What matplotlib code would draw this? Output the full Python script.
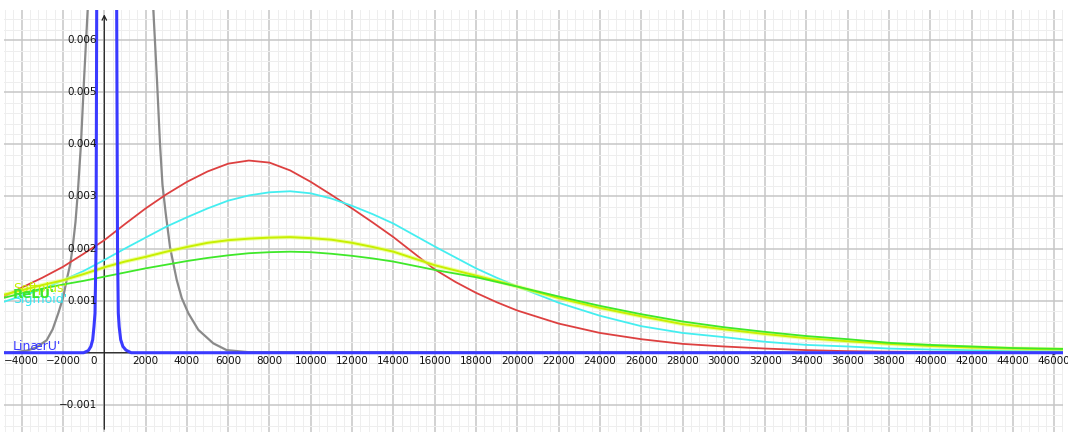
import matplotlib
matplotlib.use('Agg')
import matplotlib.pyplot as plt
import matplotlib.ticker as mtick
from matplotlib.transforms import offset_copy

# --- values ---
xs_wide = [-5000, -4000, -3000, -2000, -1000, 0, 1000, 2000, 3000, 4000, 5000, 6000,
           7000, 8000, 9000, 10000, 11000, 12000, 13000, 14000, 15000, 16000, 17000,
           18000, 19000, 20000, 22000, 24000, 26000, 28000, 30000, 32000, 34000,
           36000, 38000, 40000, 42000, 44000, 47000]

red_vals = [0.00105, 0.00125, 0.00144, 0.00165, 0.0019, 0.00216, 0.00247, 0.00277,
            0.00304, 0.00328, 0.00348, 0.00363, 0.00369, 0.00365, 0.0035, 0.00328,
            0.00303, 0.00277, 0.0025, 0.00222, 0.00191, 0.0016, 0.00136, 0.00115,
            0.00097, 0.00081, 0.00056, 0.00038, 0.00026, 0.00017, 0.00012, 0.00008,
            0.00005, 0.00003, 0.00002, 0.000015, 0.00001, 0.00001, 0.000005]

sigmoid_vals = [0.00096, 0.00109, 0.00122, 0.00139, 0.00157, 0.00178, 0.002, 0.00221,
                0.00242, 0.0026, 0.00277, 0.00292, 0.00302, 0.00308, 0.0031, 0.00306,
                0.00296, 0.00282, 0.00266, 0.00248, 0.00226, 0.00204, 0.00183, 0.00162,
                0.00144, 0.00127, 0.00096, 0.00071, 0.00051, 0.00038, 0.0003, 0.00021,
                0.00015, 0.00012, 0.00008, 0.00006, 0.00005, 0.00004, 0.00003]

softplus_vals = [0.0011, 0.0012, 0.0013, 0.00139, 0.00151, 0.00164, 0.00175, 0.00184,
                 0.00194, 0.00203, 0.00211, 0.00216, 0.00219, 0.00221, 0.00222, 0.0022,
                 0.00217, 0.00211, 0.00203, 0.00194, 0.00181, 0.00168, 0.00158, 0.00148,
                 0.00138, 0.00127, 0.00105, 0.00086, 0.0007, 0.00055, 0.00045, 0.00036,
                 0.00028, 0.00022, 0.00017, 0.00013, 0.0001, 0.00008, 0.00006]

relu_vals = [0.00104, 0.00114, 0.00123, 0.00131, 0.00138, 0.00146, 0.00154, 0.00162,
             0.00169, 0.00176, 0.00182, 0.00187, 0.00191, 0.00193, 0.00194, 0.00193,
             0.0019, 0.00186, 0.00181, 0.00175, 0.00167, 0.00159, 0.00152, 0.00145,
             0.00136, 0.00127, 0.00108, 0.0009, 0.00074, 0.0006, 0.00049, 0.0004,
             0.00032, 0.00026, 0.00019, 0.00015, 0.00012, 0.00009, 0.00007]

grey_x = [-5000, -4300, -3760, -3300, -2790, -2500, -2227, -2000, -1820, -1650, -1530,
          -1395, -1274, -1128, -983, -805, 785, 2375, 2552, 2697, 2818, 2973, 3182,
          3350, 3506, 3750, 4068, 4552, 5278, 5927, 7000, 47000]
grey_y = [0.0, 0.00001, 0.00004, 0.0001, 0.00024, 0.00045, 0.00076, 0.00105, 0.0014,
          0.0017, 0.00203, 0.00251, 0.00312, 0.00402, 0.00523, 0.00658, 0.02, 0.00658,
          0.00523, 0.00401, 0.00322, 0.00268, 0.00203, 0.0017, 0.0014, 0.00105, 0.00076,
          0.00044, 0.00018, 0.00005, 0.00001, 0.0]

linear_x = [-5000, -1000, -775, -650, -562, -500, -450, -400, -368, 116, 600, 640, 678,
            720, 794, 900, 1050, 1300, 47000]
linear_y = [0.0, 0.0, 0.00004, 0.00012, 0.00025, 0.0005, 0.00076, 0.002, 0.00658, 0.05,
            0.00658, 0.002, 0.00076, 0.0005, 0.00025, 0.00012, 0.00005, 0.0, 0.0]

x_ticks = list(range(-4000, 46001, 2000))
y_ticks = [-0.001, 0.001, 0.002, 0.003, 0.004, 0.005, 0.006]

XMIN, XMAX = -4857, 46426
YMIN, YMAX = -0.001522, 0.00658

# --- figure ---
fig = plt.figure(figsize=(10.68, 4.33), dpi=100)
ax = fig.add_axes([4 / 1068, 1 / 433, 1059 / 1068, 422 / 433])
ax.set_xlim(XMIN, XMAX)
ax.set_ylim(YMIN, YMAX)

ax.xaxis.set_major_locator(mtick.MultipleLocator(2000))
ax.xaxis.set_minor_locator(mtick.MultipleLocator(400))
ax.yaxis.set_major_locator(mtick.MultipleLocator(0.001))
ax.yaxis.set_minor_locator(mtick.MultipleLocator(0.0002))
ax.grid(which='major', color='#c6c6c6', linewidth=1.1, zorder=0)
ax.grid(which='minor', color='#eeeeee', linewidth=0.7, zorder=0)
ax.set_axisbelow(True)
ax.tick_params(which='both', length=0, labelbottom=False, labelleft=False)
for s in ax.spines.values():
    s.set_visible(False)

# axes with arrows
ax.annotate('', xy=(0, YMAX - 0.00003), xytext=(0, YMIN),
            arrowprops=dict(arrowstyle='->', lw=0.9, color='#222222', mutation_scale=8), zorder=2)
ax.annotate('', xy=(XMAX - 80, 0), xytext=(XMIN, 0),
            arrowprops=dict(arrowstyle='->', lw=0.9, color='#222222', mutation_scale=8), zorder=2)

# curves
ax.plot(grey_x, grey_y, color='#8a8a8a', lw=1.6, zorder=3)
ax.plot(xs_wide, red_vals, color='#dd4040', lw=1.3, zorder=4)
ax.plot(xs_wide, sigmoid_vals, color='#44eef0', lw=1.3, zorder=4)
ax.plot(xs_wide, softplus_vals, color='#e6ff70', lw=3.0, alpha=0.6, zorder=4)
ax.plot(xs_wide, softplus_vals, color='#c8f000', lw=1.4, zorder=5)
ax.plot(xs_wide, relu_vals, color='#3fe82a', lw=1.3, zorder=5)
ax.plot(linear_x, linear_y, color='#3a3aff', lw=2.2, zorder=6)

# tick labels in GeoGebra style
lbl_font = dict(fontsize=7.5, color='#111111', family='DejaVu Sans')
xt = offset_copy(ax.transData, fig=fig, x=0, y=-3, units='dots')
for t in x_ticks:
    if t == 0:
        ax.text(t, 0, '0', ha='right', va='top', zorder=7,
                transform=offset_copy(ax.transData, fig=fig, x=-7, y=-3, units='dots'), **lbl_font)
    else:
        ax.text(t, 0, f'{t}'.replace('-', '\u2212'), ha='center', va='top', zorder=7,
                transform=xt, **lbl_font)
yt = offset_copy(ax.transData, fig=fig, x=-7, y=0, units='dots')
for t in y_ticks:
    ax.text(0, t, f'{t:.3f}'.replace('-', '\u2212'), ha='right', va='center', zorder=7,
            transform=yt, **lbl_font)

# curve labels at the left edge (they overlap in the original too)
ax.text(-4420, 0.00123, "Softplus'", color='#c8f000', fontsize=9, va='center', zorder=8)
ax.text(-4420, 0.00102, "Sigmoid'", color='#33e6f0', fontsize=9, va='center', zorder=8)
ax.text(-4420, 0.00112, "ReLU'", color='#3fe82a', fontsize=9.5, fontweight='bold', va='center', zorder=9)
ax.text(-4420, 0.00011, "LinærU'", color='#3a3aff', fontsize=9, va='center', zorder=9)

fig.savefig('out.png', dpi=100, facecolor='white')
